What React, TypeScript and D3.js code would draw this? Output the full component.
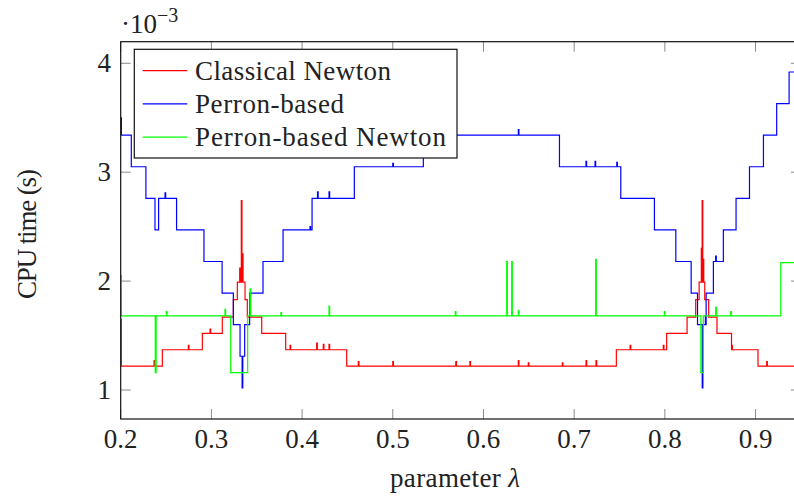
import React from 'react';
import * as d3 from 'd3';

const xTicks = [0.2, 0.3, 0.4, 0.5, 0.6, 0.7, 0.8, 0.9];
const yTicks = [1, 2, 3, 4];
const seriesNames = ['Classical Newton', 'Perron-based', 'Perron-based Newton'];
const seriesColors = ['#ff0000', '#0000ff', '#00ff00'];
const legendTextLengths = [196, 149, 251];

// step levels: [lambda where level starts, CPU time (1e-3 s)]
const classicalSteps: [number, number][] = [
  [0.2, 1.65], [0.2006, 1.22], [0.2459, 1.37], [0.29, 1.52], [0.312, 1.67],
  [0.3242, 1.83], [0.3286, 1.99], [0.3371, 1.83], [0.3396, 1.67], [0.3555, 1.52],
  [0.3819, 1.37], [0.4492, 1.22], [0.7465, 1.37], [0.802, 1.52], [0.8245, 1.67],
  [0.834, 1.83], [0.8378, 1.99], [0.844, 1.83], [0.8483, 1.67], [0.8575, 1.52],
  [0.8735, 1.37], [0.9027, 1.22],
];
const classicalSpikes: [number, number][] = [
  [0.2368, 1.27], [0.2746, 1.41], [0.2985, 1.56], [0.3312, 2.12], [0.333, 2.74],
  [0.3342, 2.25], [0.3867, 1.41], [0.4161, 1.43], [0.4234, 1.42], [0.4297, 1.42],
  [0.462, 1.26], [0.5, 1.26], [0.5695, 1.26], [0.585, 1.26], [0.6384, 1.27],
  [0.6494, 1.25], [0.6869, 1.25], [0.7131, 1.27], [0.7241, 1.27], [0.7617, 1.41],
  [0.7983, 1.41], [0.8402, 2.3], [0.8411, 2.74], [0.8422, 2.2], [0.8737, 1.41],
  [0.9123, 1.26],
];

const perronSteps: [number, number][] = [
  [0.2, 3.5], [0.2008, 3.34], [0.2117, 3.05], [0.2278, 2.76], [0.2378, 2.47],
  [0.2418, 2.76], [0.2616, 2.47], [0.2918, 2.18], [0.3118, 1.89], [0.3242, 1.6],
  [0.3316, 1.31], [0.3367, 1.6], [0.3422, 1.89], [0.3569, 2.18], [0.379, 2.47],
  [0.411, 2.76], [0.4576, 3.05], [0.5337, 3.34], [0.6838, 3.05], [0.7514, 2.76],
  [0.7885, 2.47], [0.8121, 2.18], [0.829, 1.89], [0.836, 1.6], [0.8455, 1.89],
  [0.8535, 2.18], [0.8645, 2.47], [0.8785, 2.76], [0.8933, 3.05], [0.9087, 3.34],
  [0.9233, 3.63], [0.937, 3.92],
];
const perronSpikes: [number, number][] = [
  [0.2489, 2.81], [0.4087, 2.5], [0.417, 2.82], [0.4297, 2.82], [0.5, 3.08],
  [0.6384, 3.39], [0.713, 3.1], [0.723, 3.1], [0.747, 3.09], [0.3339, 1.02],
  [0.8412, 1.02], [0.856, 2.23], [0.8447, 1.68],
];

const newtonSteps: [number, number][] = [
  [0.2, 2.05], [0.2006, 1.68], [0.2381, 1.16], [0.2391, 1.68], [0.3213, 1.16],
  [0.34, 1.68], [0.8397, 1.16], [0.8424, 1.68], [0.9278, 2.17],
];
const newtonSpikes: [number, number][] = [
  [0.2503, 1.72], [0.315, 1.74], [0.3426, 1.93], [0.3767, 1.71], [0.4297, 1.77],
  [0.569, 1.72], [0.6256, 2.18], [0.6311, 2.18], [0.6384, 1.73], [0.7237, 2.2],
  [0.7994, 1.72], [0.8561, 1.76], [0.8726, 1.72],
];

const W = 794;
const H = 496;
const L = 120.7;
const R = 800.9;
const T = 41.7;
const B = 419;
const FONT = '"Liberation Serif", "Times New Roman", serif';

function buildSeries(steps: [number, number][], spikes: [number, number][]) {
  const valueAt = (x: number) => {
    let v = steps[0][1];
    for (const s of steps) {
      if (s[0] <= x) v = s[1];
      else break;
    }
    return v;
  };
  const pts: [number, number][] = steps.map((d) => [d[0], d[1]] as [number, number]);
  for (const [sx, sy] of spikes) {
    pts.push([sx, sy]);
    pts.push([sx + 0.0007, valueAt(sx)]);
  }
  pts.sort((a, b) => a[0] - b[0]);
  pts.push([0.95, steps[steps.length - 1][1]]);
  return pts;
}

export default function App() {
  const x = d3.scaleLinear().domain([0.2, 0.95]).range([L, R]);
  const y = d3.scaleLinear().domain([0.734, 4.198]).range([B, T]);
  const line = d3
    .line<[number, number]>()
    .x((d) => x(d[0]))
    .y((d) => y(d[1]))
    .curve(d3.curveStepAfter);

  const data = [
    buildSeries(classicalSteps, classicalSpikes),
    buildSeries(perronSteps, perronSpikes),
    buildSeries(newtonSteps, newtonSpikes),
  ];
  const tickLen = 10;
  const tickColor = '#8a8a8a';

  return (
    <svg
      width={W}
      height={H}
      viewBox={`0 0 ${W} ${H}`}
      style={{ position: 'absolute', left: 0, top: 0, background: '#fff' }}
      fontFamily={FONT}
    >
      <defs>
        <clipPath id="plotclip">
          <rect x={L} y={T} width={R - L} height={B - T} />
        </clipPath>
      </defs>
      <rect x={0} y={0} width={W} height={H} fill="#fff" />
      {/* ticks */}
      {xTicks.map((t) => (
        <g key={'xt' + t}>
          <line x1={x(t)} x2={x(t)} y1={B} y2={B - tickLen} stroke={tickColor} strokeWidth={1} />
          <line x1={x(t)} x2={x(t)} y1={T} y2={T + tickLen} stroke={tickColor} strokeWidth={1} />
          <text x={x(t)} y={448} textAnchor="middle" fontSize={27} fill="#222">
            {t.toFixed(1)}
          </text>
        </g>
      ))}
      {yTicks.map((t) => (
        <g key={'yt' + t}>
          <line x1={L} x2={L + tickLen} y1={y(t)} y2={y(t)} stroke={tickColor} strokeWidth={1} />
          <line x1={R} x2={R - tickLen} y1={y(t)} y2={y(t)} stroke={tickColor} strokeWidth={1} />
          <text x={111} y={y(t) + 9} textAnchor="end" fontSize={27} fill="#222">
            {t}
          </text>
        </g>
      ))}
      {/* series */}
      <g clipPath="url(#plotclip)">
        {data.map((d, i) => (
          <path key={i} d={line(d) || ''} fill="none" stroke={seriesColors[i]} strokeWidth={1.2} />
        ))}
      </g>
      {/* frame */}
      <rect x={L} y={T} width={R - L} height={B - T} fill="none" stroke="#111" strokeWidth={1.2} />
      {/* scale label */}
      <text x={121} y={33} fontSize={27} fill="#222">
        ·10
        <tspan dy={-11} fontSize={20}>−3</tspan>
      </text>
      {/* legend */}
      <g>
        <rect x={134.3} y={49.3} width={322.7} height={108.7} fill="#fff" stroke="#111" strokeWidth={1.2} />
        {seriesNames.map((name, i) => {
          const ly = 70.7 + i * 33.2;
          return (
            <g key={name}>
              <line x1={142.7} x2={187.3} y1={ly} y2={ly} stroke={seriesColors[i]} strokeWidth={1.2} />
              <text
                x={195}
                y={ly + 9}
                fontSize={27}
                fill="#222"
                textLength={legendTextLengths[i]}
                lengthAdjust="spacing"
              >
                {name}
              </text>
            </g>
          );
        })}
      </g>
      {/* axis labels */}
      <text x={455} y={487} textAnchor="middle" fontSize={27} fill="#222" textLength={130} lengthAdjust="spacing">
        parameter <tspan fontStyle="italic">λ</tspan>
      </text>
      <text
        transform={`translate(36, 234) rotate(-90)`}
        textAnchor="middle"
        fontSize={27}
        fill="#222"
        textLength={130}
        lengthAdjust="spacing"
      >
        CPU time (s)
      </text>
    </svg>
  );
}
